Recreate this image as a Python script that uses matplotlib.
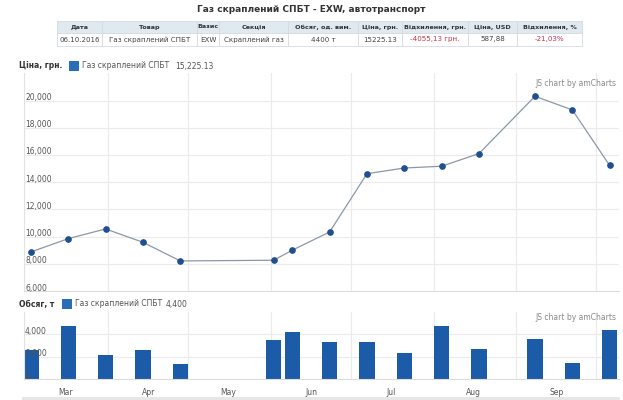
import datetime as dt
import matplotlib
matplotlib.use("Agg")
import matplotlib.pyplot as plt
import matplotlib.dates as mdates
import matplotlib.transforms as mtransforms
from matplotlib.patches import Rectangle

# data
dates = ["2016-03-03", "2016-03-17", "2016-03-31", "2016-04-14", "2016-04-28",
         "2016-06-02", "2016-06-09", "2016-06-23", "2016-07-07", "2016-07-21",
         "2016-08-04", "2016-08-18", "2016-09-08", "2016-09-22", "2016-10-06"]
price = [8870, 9850, 10560, 9580, 8210, 8260, 9000, 10340, 14620, 15040,
         15170, 16100, 20310, 19310, 15225.13]
volume = [2600, 4750, 2130, 2580, 1390, 3470, 4200, 3290, 3290, 2310,
          4760, 2720, 3580, 1450, 4400]
months = ["Mar", "Apr", "May", "Jun", "Jul", "Aug", "Sep"]

title = "Газ скраплений СПБТ - EXW, автотранспорт"
table_head = ["Дата", "Товар", "Базис", "Секція", "Обсяг, од. вим.", "Ціна, грн.",
              "Відхилення, грн.", "Ціна, USD", "Відхилення, %"]
table_row = ["06.10.2016", "Газ скраплений СПБТ", "EXW", "Скраплений газ", "4400 т",
             "15225.13", "-4055,13 грн.", "587,88", "-21,03%"]
red_cols = [6, 8]
col_edges = [57, 102, 197, 219, 288, 358, 402, 468, 517, 582]

W, H = 623, 400
x = [dt.datetime.strptime(d, "%Y-%m-%d") for d in dates]
xn = mdates.date2num(x)

LINE = "#8a98a8"
DOT = "#1f4f8f"
BAR = "#1b5ba8"
GRID = "#ebebeb"
TXT = "#555555"

fig = plt.figure(figsize=(W / 100, H / 100), dpi=100)
fig.patch.set_facecolor("white")


def px_axes(l, t, r, b):
    return fig.add_axes([l / W, 1 - b / H, (r - l) / W, (b - t) / H])


def fx(px):
    return px / W


def fy(py):
    return 1 - py / H


# title and table
fig.text(fx(311), fy(10), title, ha="center", va="center", fontsize=6.5,
         fontweight="bold", color="#333333")
rows = [(21, 33, table_head, True), (33, 46, table_row, False)]
for top, bot, cells, head in rows:
    for i, txt in enumerate(cells):
        l, r = col_edges[i], col_edges[i + 1]
        fig.add_artist(Rectangle((fx(l), fy(bot)), fx(r - l), (bot - top) / H,
                                 transform=fig.transFigure,
                                 facecolor="#e1e9f0" if head else "white",
                                 edgecolor="#d3dbe2", linewidth=0.6))
        col = "#333333" if head else ("#c8324a" if i in red_cols else "#444444")
        fig.text(fx((l + r) / 2), fy((top + bot) / 2), txt, ha="center", va="center",
                 fontsize=4.6 if head else 5.1, fontweight="bold" if head else "normal",
                 color=col)

xmin = xn[0] - 2.6
xmax = xn[-1] + 3.5
month_starts = mdates.date2num([dt.datetime(2016, m, 1) for m in range(4, 11)])
month_mids = mdates.date2num([dt.datetime(2016, m, 16) for m in range(3, 10)])


def style(ax, ylim, yticks):
    ax.set_xlim(xmin, xmax)
    ax.set_ylim(*ylim)
    ax.set_xticks(month_starts)
    ax.set_xticklabels([])
    ax.set_yticks(yticks)
    ax.set_yticklabels([])
    ax.tick_params(length=0)
    ax.grid(True, color=GRID, linewidth=0.8)
    ax.set_axisbelow(True)
    for s in ax.spines.values():
        s.set_visible(False)
    ax.spines["left"].set_visible(True)
    ax.spines["left"].set_color("#e2e2e2")
    ax.spines["bottom"].set_visible(True)
    ax.spines["bottom"].set_color("#dcdcdc")
    tr = mtransforms.offset_copy(ax.get_yaxis_transform(), fig=fig, x=1, y=3, units="dots")
    for v in yticks:
        ax.text(0, v, f"{v:,}", transform=tr, ha="left", va="center",
                fontsize=5.5, color=TXT, zorder=5)
    ax.text(0.995, 0.975, "JS chart by amCharts", transform=ax.transAxes,
            ha="right", va="top", fontsize=5.5, color="#888888")


# price chart
ax1 = px_axes(24, 73.3, 619, 291)
style(ax1, (6000, 22000), list(range(6000, 22000, 2000)))
ax1.plot(xn, price, color=LINE, linewidth=0.9, zorder=3)
ax1.plot(xn, price, "o", color=DOT, markersize=3.8, zorder=4)

# volume chart
ax2 = px_axes(24, 311.7, 619, 379.3)
style(ax2, (0, 6000), [0, 2000, 4000])
ax2.bar(xn, volume, width=5.8, color=BAR, zorder=2)
ax2.set_xticks(month_mids, minor=True)
ax2.set_xticklabels(months, minor=True)
ax2.tick_params(which="minor", length=0, labelsize=5.5, labelcolor=TXT, pad=6)

# legends
for y, label, gap, val, sq in [(66, "Ціна, грн.", 69, "15,225.13", 175),
                               (304, "Обсяг, т", 62, "4,400", 166)]:
    fig.text(fx(19), fy(y), label, ha="left", va="center", fontsize=5.5,
             fontweight="bold", color="#333333")
    fig.add_artist(Rectangle((fx(gap), fy(y + 5)), fx(10), 10 / H,
                             transform=fig.transFigure, facecolor="#2a6db8",
                             edgecolor="none"))
    fig.text(fx(gap + 13), fy(y), "Газ скраплений СПБТ", ha="left", va="center",
             fontsize=5.5, color=TXT)
    fig.text(fx(sq), fy(y), val, ha="left", va="center", fontsize=5.5, color=TXT)

# scrollbar strip at the bottom
fig.add_artist(Rectangle((fx(22), 0), fx(598), 3.5 / H, transform=fig.transFigure,
                         facecolor="#e6e6e6", edgecolor="none"))

fig.savefig("out.png", dpi=100)
